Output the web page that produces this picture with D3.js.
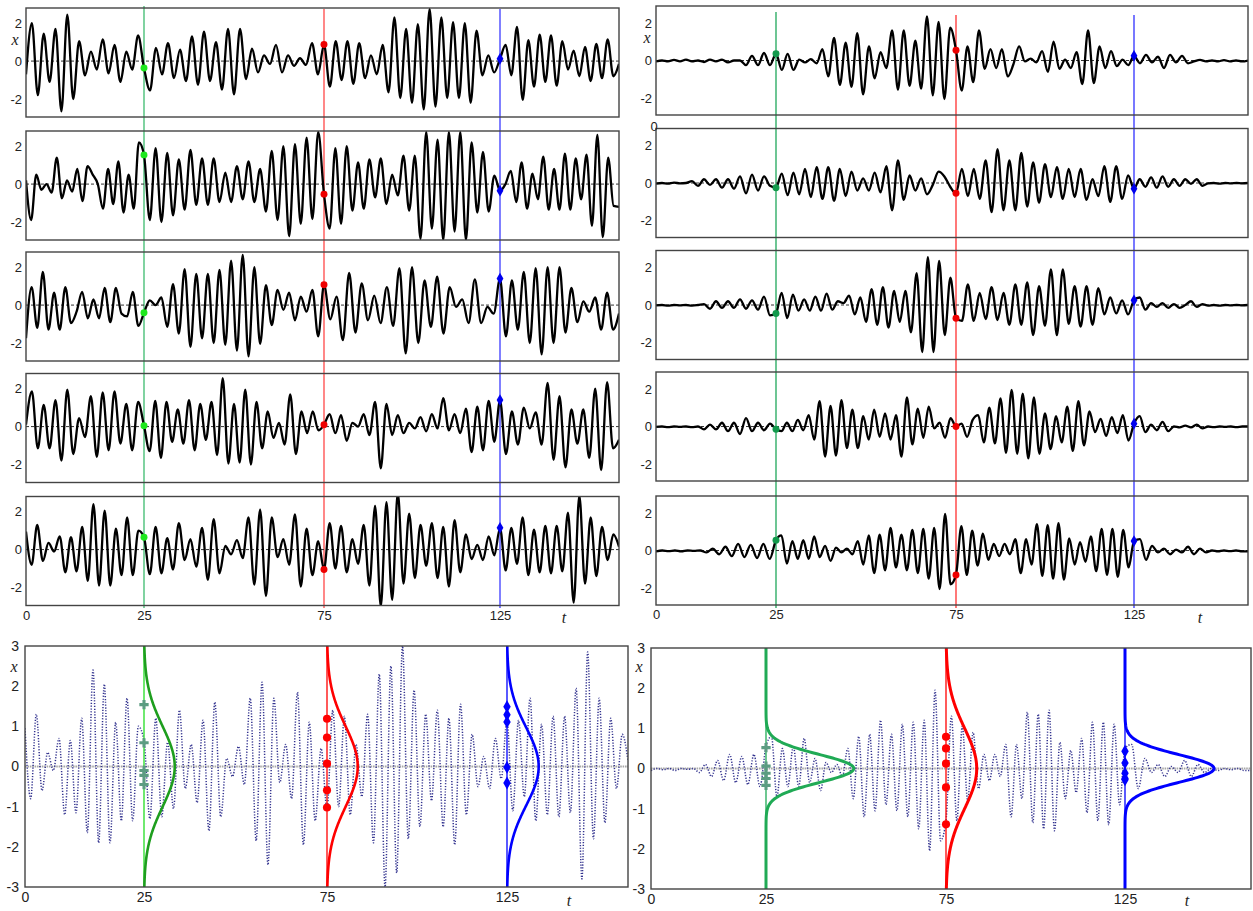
<!DOCTYPE html>
<html><head><meta charset="utf-8">
<script src="https://cdn.jsdelivr.net/npm/d3@7"></script>
<style>body{margin:0;background:#fff;} text{font-family:"Liberation Sans",Arial,sans-serif;}</style>
</head><body><script>
// ---------------- data ----------------
const tickT = [0, 25, 75, 125];
const tickLabelsT = ["0", "25", "75", "125"];
const tickXTop = [-2, 0, 2];
const tickXBottom = [-3, -2, -1, 0, 1, 2, 3];
const tBreaks = [0, 25, 75, 125, 158];

// each series: 4 segments of extrema values (before t=25, 25-75, 75-125, after 125)
const L1 = [
 [-0.7, 2.0, -1.8, 1.45, -1.1, 1.7, -2.65, 2.45, -2.0, 1.05, -0.75, 0.5, -0.45, 1.15, -0.65, 0.85, -1.1, 0.5, -0.45, 1.35],
 [-1.55, 0.7, -0.7, 0.95, -0.9, 0.6, -1.05, 1.3, -1.25, 1.55, -1.05, 1.0, -1.5, 1.7, -1.75, 1.7, -0.95, 0.65, -0.6, 0.3, -0.15, 0.85, -0.6, 0.3, -0.25, 0.15, -0.2, 0.95, -0.7],
 [-1.35, 1.05, -1.0, 1.05, -1.2, 0.95, -0.9, 0.3, -0.7, 0.85, -1.65, 2.3, -1.95, 1.7, -2.2, 1.95, -2.55, 2.75, -2.4, 2.3, -1.95, 2.05, -1.95, 2.0, -2.2, 1.6, -0.75, 0.3, -0.6],
 [0.85, -0.75, 1.8, -2.05, 1.1, -1.35, 1.4, -1.1, 1.35, -1.3, 1.05, -0.45, 0.55, -0.8, 0.75, -1.05, 0.9, -0.9, 1.15, -0.8, -0.15]
];
const L2 = [
 [0.2, -1.9, 0.5, -0.3, 0.0, -0.45, 1.4, -0.75, 0.2, -0.4, 0.8, -0.9, 0.95, 0.5, 0.0, -1.3, 0.8, -1.05, 1.2, -1.5, 0.5, -1.3, 2.2],
 [-1.9, 1.9, -2.0, 1.65, -1.65, 1.3, -1.35, 1.8, -1.1, 1.35, -1.1, 1.35, -0.95, 0.6, -0.95, 0.95, -0.8, 1.2, -0.95, 0.8, -1.45, 1.75, -1.9, 2.0, -2.75, 2.1, -2.1, 2.45, -1.85, 2.75],
 [-2.35, 1.9, -2.1, 2.0, -1.4, 1.15, -1.3, 1.3, -0.7, 1.35, -1.05, 0.5, -0.6, 1.5, -1.4, 1.5, -2.9, 2.75, -2.35, 2.35, -2.95, 2.75, -2.5, 2.75, -2.95, 2.2, -1.5, 1.7, -1.45, 0.45],
 [0.0, 0.7, -0.95, 1.15, -1.3, 0.55, -0.8, 1.45, -1.35, 0.8, -1.35, 1.6, -1.35, 1.35, -0.8, 1.55, -2.2, 2.6, -2.8, 1.4, -1.15, -1.2]
];
const L3 = [
 [-1.75, 0.95, -1.2, 1.75, -1.3, 0.65, -1.3, 0.95, -0.95, -0.35, 0.7, -0.7, 0.3, -0.7, 0.9, -0.9, 0.9, -0.45, -0.6, 0.7, -1.1],
 [0.25, 0.0, 0.4, -1.15, 1.1, -1.5, 1.9, -2.2, 1.65, -1.75, 1.65, -2.0, 1.85, -2.1, 2.35, -2.4, 2.65, -2.7, 2.0, -2.05, 1.05, -1.05, 0.8, -0.25, 0.65, -0.8, 0.45, -0.35, 0.8, -1.65],
 [-0.75, 0.45, -1.85, 1.7, -1.45, 1.15, -0.8, 0.5, -0.95, 0.95, -1.1, 1.95, -2.55, 2.0, -2.0, 1.3, -1.15, 1.5, -1.5, 0.95, -0.1, 0.3, -0.95, 1.35, -0.95, -0.1, -0.45],
 [-1.65, 1.3, -1.3, 1.75, -2.0, 1.95, -2.6, 2.0, -2.0, 2.0, -1.45, 0.9, -0.9, 0.2, -0.35, 0.4, -1.3, 0.65, -1.3, -0.45]
];
const L4 = [
 [0.1, 1.85, -1.15, 1.15, -1.15, 1.4, -1.8, 1.95, -1.45, 0.45, -0.55, 1.6, -1.6, 1.8, -1.25, 1.85, -0.9, 1.2, -1.25, 1.3],
 [-1.3, 1.35, -1.65, 1.3, -0.8, 0.9, -0.9, 1.4, -1.25, 1.2, -0.7, 1.3, -1.5, 2.55, -1.95, 1.2, -1.9, 1.95, -2.0, 1.3, -1.15, 0.8, -0.6, 0.2, -0.95, 1.7, -1.45, 0.8, -0.35, 0.8, -0.2],
 [0.65, -0.35, 0.6, -0.75, 0.2, 0.0, 0.65, -0.45, 1.3, -2.2, 1.2, -0.45, 0.6, -0.35, 0.2, -0.1, 0.5, -0.25, 0.65, -0.1, 1.5, -0.2, 0.65, -0.35, 0.95, -1.35, 1.05, -1.25, 1.35, -0.8],
 [-1.45, 0.8, -0.95, 1.0, -0.1, 0.75, -0.95, 2.3, -1.75, 1.6, -2.15, 0.9, -0.9, 0.9, -1.65, 2.0, -2.3, 2.35, -1.15, -0.7]
];
const L5 = [
 [0.95, -0.8, 1.3, -0.6, 0.35, -0.1, 0.7, -1.2, 0.65, -1.15, 1.2, -1.65, 2.4, -1.9, 2.05, -1.9, 1.1, -1.35, 1.7, -1.35, 1.0],
 [-1.3, 1.2, -1.25, 0.6, -1.05, 1.4, -0.55, 0.55, -0.9, 1.15, -1.6, 1.6, -1.25, 0.2, -0.25, 0.5, -0.45, 1.7, -1.85, 2.1, -2.45, 1.7, -0.4, 0.55, -0.8, 1.85, -1.95, 1.1, -1.35, 0.45],
 [1.4, -1.0, 1.25, -1.2, 0.55, -0.75, 1.3, -1.9, 2.3, -3.0, 2.5, -2.65, 3.0, -1.8, 1.9, -1.5, 1.3, -0.85, 1.4, -1.5, 1.2, -1.95, 1.55, -1.2, 0.8, -0.5, 0.25, -0.55, 0.7, -0.3],
 [-1.1, 1.15, -0.75, 1.7, -1.35, 1.05, -1.2, 1.25, -1.25, 1.25, -1.15, 1.95, -2.8, 2.85, -1.8, 1.7, -1.4, 1.2, -0.55, 0.8, 0.15]
];
const R1 = [
 [-0.05, 0.0, -0.05, 0.03, -0.05, 0.05, -0.05, 0.0, -0.08, 0.05, -0.05, 0.05, -0.1, 0.0, 0.0, -0.25, 0.25, -0.25, 0.4, -0.25],
 [-0.5, 0.35, -0.5, 0.05, -0.1, 0.07, -0.15, 0.6, -0.85, 1.2, -1.3, 0.95, -1.4, 1.45, -1.8, 0.75, -0.95, 0.45, -0.4, 1.6, -1.55, 1.6, -1.35, 1.05, -1.5, 2.35, -1.85, 2.05, -2.05, 1.75],
 [-1.6, 0.75, -1.15, 1.6, -0.45, 0.6, -0.4, 0.6, -0.85, -0.2, 0.75, -0.05, 0.1, -0.1, 0.5, -0.6, 1.0, -0.45, 0.05, -0.4, 0.45, -1.25, 1.6, -1.2, 0.75, -0.4, 0.5, -0.3, 0.05, -0.25],
 [-0.15, 0.3, -0.1, 0.2, -0.4, 0.3, -0.1, 0.25, -0.15, -0.05, 0.03, -0.05, 0.0, -0.05, 0.02, -0.05, 0.0, -0.05, 0.0]
];
const R2 = [
 [-0.03, 0.0, -0.03, 0.02, -0.02, 0.0, 0.1, -0.15, 0.2, -0.1, 0.2, -0.25, 0.2, -0.3, 0.35, -0.55, 0.45, -0.4, 0.35, -0.15],
 [0.5, -0.65, 0.55, -0.6, 0.75, -0.75, 0.85, -0.85, 0.85, -0.95, 0.75, -0.7, 0.6, -0.4, 0.25, -0.4, 0.55, -0.5, 0.9, -1.45, 1.2, -0.9, 0.4, -0.4, 0.25, -0.6, -0.1, 0.6, 0.35, -0.2],
 [0.75, -0.7, 0.75, -0.85, 1.2, -1.55, 1.8, -1.45, 1.2, -1.45, 1.6, -1.25, 1.1, -1.05, 1.0, -0.75, 0.85, -0.85, 0.75, -0.75, 0.75, -0.9, 0.2, -0.7, 0.9, -1.0, 0.9, -0.85, 0.4],
 [0.2, -0.2, 0.3, -0.25, 0.35, -0.2, 0.2, -0.15, 0.2, -0.05, 0.2, -0.15, -0.02, 0.0, -0.03, 0.0, -0.02, 0.0, -0.02, 0.0]
];
const R3 = [
 [-0.02, 0.0, -0.03, 0.0, -0.02, 0.0, -0.03, 0.0, 0.05, -0.2, 0.2, -0.15, 0.2, -0.15, 0.3, -0.2, 0.25, -0.25, 0.45, -0.55],
 [0.65, -0.7, 0.55, -0.3, 0.3, -0.3, 0.45, -0.3, 0.6, -0.25, 0.2, 0.1, 0.5, -0.5, 0.4, -0.9, 0.85, -1.05, 0.95, -1.2, 0.75, -0.9, 0.75, -1.45, 1.7, -2.5, 2.55, -2.5, 2.35, -1.6, 1.45],
 [-0.85, 1.1, -0.85, 0.65, -0.75, 0.95, -0.8, 0.65, -1.05, 1.1, -1.05, 1.2, -1.6, 1.0, -1.1, 1.9, -1.6, 1.9, -1.0, 1.0, -1.15, 1.0, -1.05, 0.9, -0.5, 0.4, -0.45, 0.25, -0.5],
 [0.4, -0.25, 0.1, -0.1, 0.1, -0.15, 0.05, -0.15, 0.0, 0.2, -0.1, 0.05, -0.03, 0.0, -0.03, 0.0, -0.02, 0.0, -0.02, 0.0]
];
const R4 = [
 [-0.02, 0.0, -0.03, 0.0, -0.02, 0.0, -0.03, 0.0, -0.15, 0.1, -0.15, 0.2, -0.25, 0.2, -0.4, 0.45, -0.25, 0.2, -0.2, 0.15],
 [-0.25, 0.2, -0.25, 0.35, -0.2, 0.6, -0.7, 1.35, -1.6, 1.1, -1.55, 1.4, -1.15, 0.9, -1.15, 0.55, -0.7, 0.9, -0.55, 0.7, -0.7, 0.6, -1.6, 1.55, -0.95, 0.95, -0.6, 1.05, -0.1, 0.2, -0.6, 0.45],
 [0.15, -0.55, 0.35, 0.6, -0.85, 1.0, -0.9, 1.5, -1.4, 1.95, -1.45, 1.75, -1.7, 1.55, -1.45, 0.7, -1.2, 0.55, -0.85, 1.05, -1.3, 1.35, -1.0, 0.8, -0.3, 0.4, -0.5, 0.5, -0.35, 0.6, -0.75],
 [0.55, -0.3, 0.1, -0.2, 0.25, -0.25, 0.0, -0.05, 0.05, -0.05, 0.1, -0.1, 0.0, -0.03, 0.0, -0.02, 0.0, -0.03, 0.0, 0.0]
];
const R5 = [
 [-0.05, 0.0, -0.03, 0.0, -0.05, 0.0, -0.02, 0.0, -0.1, 0.1, -0.2, 0.2, -0.3, 0.35, -0.35, 0.3, -0.4, 0.35, -0.45],
 [0.8, -0.7, 0.5, -0.45, 0.55, -0.45, 0.75, -0.35, 0.25, -0.55, 0.15, -0.1, 0.1, -0.2, 0.5, -0.75, 0.8, -1.2, 0.85, -1.05, 1.2, -0.9, 0.85, -1.05, 1.1, -1.2, 1.15, -1.5, 1.2, -2.05, 1.95, -1.8],
 [1.3, -1.3, 1.05, -0.8, 0.9, -0.5, 0.35, -0.3, 0.35, -0.2, 0.6, -1.2, 0.6, -0.75, 1.4, -1.35, 1.35, -1.5, 1.45, -1.55, 0.65, -0.75, 0.45, -0.6, 0.75, -1.1, 1.15, -1.3, 1.15, -1.4, 1.1, -0.9],
 [0.6, -0.5, 0.25, -0.1, 0.1, -0.2, 0.05, -0.1, 0.2, -0.2, 0.1, -0.1, 0.0, -0.05, 0.0, -0.03, 0.0, -0.05, -0.05]
];

// values at t = 25 / 75 / 125 in each realisation (top panels)
const dotLeftGreen = [-0.36, 1.54, -0.4, 0.05, 0.65];
const dotLeftRed = [0.87, -0.53, 1.07, 0.1, -1.05];
const dotLeftBlue = [0.12, -0.35, 1.4, 1.4, 1.15];
const dotRightGreen = [0.36, -0.25, -0.45, -0.15, 0.55];
const dotRightRed = [0.55, -0.55, -0.7, 0.0, -1.3];
const dotRightBlue = [0.25, -0.3, 0.25, 0.15, 0.5];
// ensemble values shown in the bottom panels
const bottomLeftGreen = [1.54, 0.59, -0.1, -0.22, -0.45];
const bottomLeftRed = [1.19, 0.72, 0.07, -0.59, -1.02];
const bottomLeftBlue = [1.49, 1.29, 1.11, -0.02, -0.41];
const bottomRightGreen = [0.52, 0.06, -0.12, -0.25, -0.42];
const bottomRightRed = [0.79, 0.5, 0.12, -0.47, -1.39];
const bottomRightBlue = [0.43, 0.14, -0.12, -0.25, -0.28];
// standard deviations of the fitted normal densities (green, red, blue)
const sigmaBottomLeft = [1.0, 1.0, 0.97];
const sigmaBottomRight = [0.35, 1.0, 0.345];

// ---------------- drawing ----------------
const svg = d3.select("body").append("svg").attr("width", 1253).attr("height", 911).style("display", "block");
const defs = svg.append("defs");

function buildPoints(segs, dots) {
  const pts = [];
  segs.forEach((seg, k) => {
    const a = tBreaks[k], b = tBreaks[k + 1], n = seg.length;
    seg.forEach((v, i) => {
      const t = k === 0 ? a + i * (b - a) / n : (k === 3 ? a + (i + 1) * (b - a) / n : a + (i + 1) * (b - a) / (n + 1));
      pts.push([t, v]);
    });
    if (k < 3) pts.push([b, dots[k]]);
  });
  return pts;
}

const serifItalic = sel => sel.style("font-family", '"Liberation Serif","Times New Roman",serif').style("font-style", "italic");

function xAxis(scale, y, fs, pad) {
  const g = svg.append("g").attr("transform", `translate(0,${y})`)
    .call(d3.axisBottom(scale).tickValues(tickT).tickFormat((d, i) => tickLabelsT[i]).tickSize(0).tickPadding(pad));
  g.select(".domain").remove();
  g.selectAll("text").style("font-size", fs + "px").style("font-family", '"Liberation Sans",Arial,sans-serif').attr("fill", "#222");
}
function yAxis(scale, x, ticks, fs, pad) {
  const g = svg.append("g").attr("transform", `translate(${x},0)`)
    .call(d3.axisLeft(scale).tickValues(ticks).tickFormat(d => String(d)).tickSize(0).tickPadding(pad));
  g.select(".domain").remove();
  g.selectAll("text").style("font-size", fs + "px").style("font-family", '"Liberation Sans",Arial,sans-serif').attr("fill", "#222");
}

function topColumn(cfg, seriesList, dG, dR, dB, id) {
  const xs = d3.scaleLinear().domain(tBreaks).range(cfg.xr);
  const w = cfg.xr[4] - cfg.xr[0];
  [25, 75, 125].forEach((t, j) => {
    svg.append("line").attr("x1", xs(t)).attr("x2", xs(t)).attr("y1", cfg.lineTop[j]).attr("y2", 608)
      .attr("stroke", cfg.lineColors[j]).attr("stroke-width", 1.3);
  });
  const line = d3.line().curve(d3.curveMonotoneX);
  seriesList.forEach((segs, i) => {
    const top = cfg.tops[i];
    const ys = d3.scaleLinear().domain(cfg.yDom).range([top + cfg.h, top]);
    line.x(d => xs(d[0])).y(d => ys(d[1]));
    const cid = id + i;
    defs.append("clipPath").attr("id", cid).append("rect").attr("x", cfg.xr[0]).attr("y", top).attr("width", w).attr("height", cfg.h);
    svg.append("line").attr("x1", cfg.xr[0]).attr("x2", cfg.xr[4]).attr("y1", ys(0)).attr("y2", ys(0))
      .attr("stroke", "#333").attr("stroke-width", 1).attr("stroke-dasharray", "3,2");
    const dots = [dG[i], dR[i], dB[i]];
    svg.append("path").datum(buildPoints(segs, dots)).attr("d", line).attr("clip-path", `url(#${cid})`)
      .attr("fill", "none").attr("stroke", "#000").attr("stroke-width", 2.3).attr("stroke-linejoin", "round");
    svg.append("rect").attr("x", cfg.xr[0]).attr("y", top).attr("width", w).attr("height", cfg.h)
      .attr("fill", "none").attr("stroke", "#444").attr("stroke-width", 1.4);
    yAxis(ys, cfg.xr[0], tickXTop, 13, 4);
    [25, 75, 125].forEach((t, j) => {
      const sym = j === 2 ? d3.symbolDiamond : d3.symbolCircle;
      svg.append("path").attr("d", d3.symbol(sym).size(j === 2 ? 40 : 38)())
        .attr("transform", `translate(${xs(t)},${ys(dots[j])})`).attr("fill", cfg.dotColors[j]);
    });
  });
  xAxis(xs, cfg.tops[4] + cfg.h, 13, 5);
}

topColumn({
  xr: [26, 144, 324, 500, 619], tops: [8, 131, 252, 373.5, 496.5], h: 109, yDom: [-2.95, 2.8],
  lineTop: [6, 9, 9], lineColors: ["#3dbb6e", "#ff4848", "#3b3bff"], dotColors: ["#1ee81e", "#ee0000", "#0000ee"]
}, [L1, L2, L3, L4, L5], dotLeftGreen, dotLeftRed, dotLeftBlue, "cl");

topColumn({
  xr: [656, 776, 956, 1134, 1248], tops: [6, 128.5, 250.5, 372, 496], h: 109, yDom: [-2.9, 2.9],
  lineTop: [12, 15, 15], lineColors: ["#1fa75a", "#ff3030", "#3030ff"], dotColors: ["#129a4c", "#ee0000", "#0000ee"]
}, [R1, R2, R3, R4, R5], dotRightGreen, dotRightRed, dotRightBlue, "cr");

// stray label and axis letters of the top panels
svg.append("text").attr("x", 654).attr("y", 131).attr("text-anchor", "middle").style("font-size", "13px").attr("fill", "#222").text("0");
svg.append("text").attr("x", 15).attr("y", 45).attr("text-anchor", "middle").style("font-size", "16px").attr("fill", "#222").call(serifItalic).text("x");
svg.append("text").attr("x", 647).attr("y", 43).attr("text-anchor", "middle").style("font-size", "16px").attr("fill", "#222").call(serifItalic).text("x");
svg.append("text").attr("x", 564).attr("y", 623).attr("text-anchor", "middle").style("font-size", "16px").attr("fill", "#222").call(serifItalic).text("t");
svg.append("text").attr("x", 1200).attr("y", 623).attr("text-anchor", "middle").style("font-size", "16px").attr("fill", "#222").call(serifItalic).text("t");

// ---------------- bottom panels ----------------
const density = d3.scaleLinear().domain([0, 1]).range([0, 77]);
const pdf = (x, s) => Math.exp(-x * x / (2 * s * s)) / (s * Math.sqrt(2 * Math.PI));

function bottomPanel(cfg, segs, topDots, dG, dR, dB, sig, id) {
  const xs = d3.scaleLinear().domain(tBreaks).range(cfg.xr);
  const ys = d3.scaleLinear().domain([-3, 3]).range([cfg.bottom, cfg.top]);
  const w = cfg.xr[4] - cfg.xr[0], h = cfg.bottom - cfg.top;
  defs.append("clipPath").attr("id", id).append("rect").attr("x", cfg.xr[0]).attr("y", cfg.top).attr("width", w).attr("height", h);
  svg.append("line").attr("x1", cfg.xr[0]).attr("x2", cfg.xr[4]).attr("y1", ys(0)).attr("y2", ys(0))
    .attr("stroke", "#a8a8a8").attr("stroke-width", 2).attr("stroke-dasharray", "1.6,0.8");
  const line = d3.line().curve(d3.curveMonotoneX).x(d => xs(d[0])).y(d => ys(d[1]));
  svg.append("path").datum(buildPoints(segs, topDots)).attr("d", line).attr("clip-path", `url(#${id})`)
    .attr("fill", "none").attr("stroke", "#33338f").attr("stroke-width", 1.5).attr("stroke-dasharray", "1.2,1.6");
  const xgrid = d3.range(-3, 3.0001, 0.02);
  [25, 75, 125].forEach((t, j) => {
    svg.append("line").attr("x1", xs(t)).attr("x2", xs(t)).attr("y1", cfg.top).attr("y2", cfg.bottom)
      .attr("stroke", cfg.lineColors[j]).attr("stroke-width", 1.3);
    const g = d3.line().x(d => xs(t) + density(pdf(d, sig[j]))).y(d => ys(d));
    svg.append("path").datum(xgrid).attr("d", g).attr("fill", "none")
      .attr("stroke", cfg.curveColors[j]).attr("stroke-width", cfg.curveWidth);
  });
  svg.append("rect").attr("x", cfg.xr[0]).attr("y", cfg.top).attr("width", w).attr("height", h)
    .attr("fill", "none").attr("stroke", "#444").attr("stroke-width", 1.4);
  const groups = [dG, dR, dB];
  [25, 75, 125].forEach((t, j) => {
    const sym = j === 0 ? d3.symbolCross : (j === 1 ? d3.symbolCircle : d3.symbolDiamond);
    groups[j].forEach(v => {
      svg.append("path").attr("d", d3.symbol(sym).size(j === 1 ? 52 : 48)())
        .attr("transform", `translate(${xs(t)},${ys(v)})`).attr("fill", cfg.dotColors[j]);
    });
  });
  yAxis(ys, cfg.xr[0], tickXBottom, 14, 6);
  xAxis(xs, cfg.bottom, 14, 5);
}

bottomPanel({
  xr: [25, 144, 327, 507, 628], top: 646, bottom: 887,
  lineColors: ["#22dd22", "#ff0000", "#0000ff"], curveColors: ["#1e9e1e", "#ff0000", "#0000ff"], curveWidth: 2.6,
  dotColors: ["#5c9c82", "#ff0000", "#0000ff"]
}, L5, [dotLeftGreen[4], dotLeftRed[4], dotLeftBlue[4]], bottomLeftGreen, bottomLeftRed, bottomLeftBlue, sigmaBottomLeft, "cbl");

bottomPanel({
  xr: [651, 766, 946, 1125, 1251], top: 648, bottom: 889,
  lineColors: ["#20aa55", "#ff0000", "#0000ff"], curveColors: ["#20aa55", "#ff0000", "#0000ff"], curveWidth: 3,
  dotColors: ["#5c9c82", "#ff0000", "#0000ff"]
}, R5, [dotRightGreen[4], dotRightRed[4], dotRightBlue[4]], bottomRightGreen, bottomRightRed, bottomRightBlue, sigmaBottomRight, "cbr");

svg.append("text").attr("x", 14).attr("y", 672).attr("text-anchor", "middle").style("font-size", "16px").attr("fill", "#222").call(serifItalic).text("x");
svg.append("text").attr("x", 639).attr("y", 672).attr("text-anchor", "middle").style("font-size", "16px").attr("fill", "#222").call(serifItalic).text("x");
svg.append("text").attr("x", 569).attr("y", 906).attr("text-anchor", "middle").style("font-size", "16px").attr("fill", "#222").call(serifItalic).text("t");
svg.append("text").attr("x", 1187).attr("y", 906).attr("text-anchor", "middle").style("font-size", "16px").attr("fill", "#222").call(serifItalic).text("t");
</script></body></html>
